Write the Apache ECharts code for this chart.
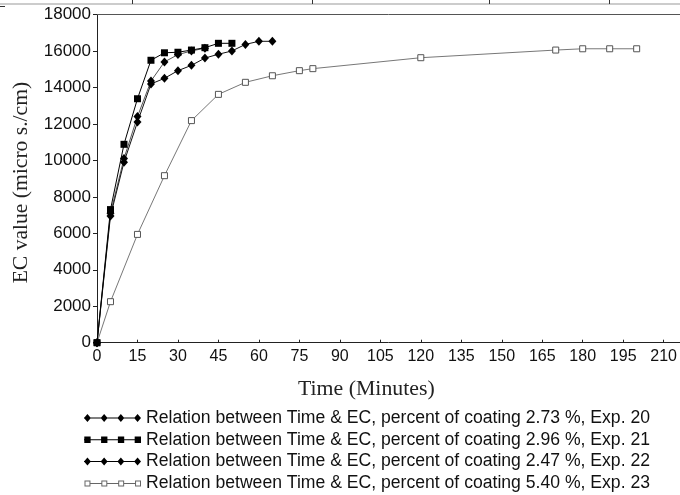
<!DOCTYPE html>
<html>
<head>
<meta charset="utf-8">
<script src="https://cdn.jsdelivr.net/npm/echarts@6/dist/echarts.min.js"></script>
<style>
html,body{margin:0;padding:0;background:#fff;}
#chart{width:680px;height:495px;}
</style>
</head>
<body>
<div id="chart"></div>
<script>
// ---- data ----
const xTicks = [0,15,30,45,60,75,90,105,120,135,150,165,180,195,210];
const yTicks = [0,2000,4000,6000,8000,10000,12000,14000,16000,18000];

const time20 = [0,5,10,15,20,25,30,35,40];
const ec20   = [0,7100,10100,12400,14350,15400,15800,16000,16150];

const time21 = [0,5,10,15,20,25,30,35,40,45,50];
const ec21   = [0,7300,10880,13380,15490,15900,15930,16050,16180,16420,16420];

const time22 = [0,5,10,15,20,25,30,35,40,45,50,55,60,65];
const ec22   = [0,6950,9900,12100,14190,14500,14920,15210,15610,15820,16000,16360,16530,16530];

const time23 = [0,5,15,25,35,45,55,65,75,80,120,170,180,190,200];
const ec23   = [0,2250,5940,9160,12180,13620,14280,14640,14920,15030,15630,16050,16120,16120,16120];

const names = [
  'Relation between Time & EC, percent of coating 2.73 %, Exp. 20',
  'Relation between Time & EC, percent of coating 2.96 %, Exp. 21',
  'Relation between Time & EC, percent of coating 2.47 %, Exp. 22',
  'Relation between Time & EC, percent of coating 5.40 %, Exp. 23'
];

function pairs(xs, ys){ return xs.map((x,i)=>[x, ys[i]]); }

// legend icons: a line with four markers (width 57, height 8)
const cx = [3.5, 20.5, 37.5, 54.5];
function diamondIcon(){
  let p = 'M0 3.5H57V4.5H0Z';
  cx.forEach(c=>{ p += `M${c-3.5} 4L${c} 0L${c+3.5} 4L${c} 8Z`; });
  return 'path://' + p;
}
function squareIcon(){
  let p = 'M0 3.5H57V4.5H0Z';
  cx.forEach(c=>{ p += `M${c-3.2} 0.8H${c+3.2}V7.2H${c-3.2}Z`; });
  p += 'M0 0H0.01V0.01H0ZM56.99 7.99H57V8H56.99Z';
  return 'path://' + p;
}
function hollowSquareIcon(){
  let p = '';
  for(let i=0;i<cx.length-1;i++){ p += `M${cx[i]+3} 3.5H${cx[i+1]-3}V4.5H${cx[i]+3}Z`; }
  cx.forEach(c=>{
    p += `M${c-3} 1H${c+3}V7H${c-3}Z`;
    p += `M${c-2} 2V6H${c+2}V2Z`;
  });
  p += 'M0 0H0.01V0.01H0ZM56.99 7.99H57V8H56.99Z';
  return 'path://' + p;
}

const chart = echarts.init(document.getElementById('chart'), null, {renderer:'canvas'});

const sansFont = '"Liberation Sans", Arial, sans-serif';
const serifFont = '"Liberation Serif", "Times New Roman", serif';

const XMAX = 216;

const option = {
  animation: false,
  backgroundColor: '#fff',
  grid: {left: 97, top: 14.5, right: 0, bottom: 152.3},
  xAxis: [{
    type: 'value', min: 0, max: XMAX, interval: 15,
    axisLine: {show: true, onZero: false, lineStyle: {color: '#222', width: 1}},
    axisTick: {show: true, inside: true, length: 3, lineStyle: {color: '#222'}},
    splitLine: {show: false},
    axisLabel: {
      color: '#111', fontFamily: sansFont, fontSize: 16, margin: 6,
      showMaxLabel: false,
      formatter: v => (xTicks.indexOf(v) >= 0 ? String(v) : '')
    }
  }, {
    type: 'value', position: 'top', min: 0, max: XMAX,
    axisLine: {show: true, onZero: false, lineStyle: {color: '#555', width: 1}},
    axisTick: {show: false}, axisLabel: {show: false}, splitLine: {show: false}
  }],
  yAxis: {
    type: 'value', min: 0, max: 18000, interval: 2000,
    name: 'EC value (micro s./cm)', nameLocation: 'middle', nameGap: 64,
    nameTextStyle: {fontFamily: serifFont, fontSize: 21.6, color: '#222', padding: [0, 8, 0, 0]},
    axisLine: {show: true, lineStyle: {color: '#222', width: 1}},
    axisTick: {show: true, inside: false, length: 4, lineStyle: {color: '#222'}},
    splitLine: {show: false},
    axisLabel: {
      color: '#111', fontFamily: sansFont, fontSize: 17, margin: 6,
      formatter: v => (yTicks.indexOf(v) >= 0 ? String(v) : '')
    }
  },
  legend: {
    orient: 'vertical', left: 84, top: 409, padding: 0,
    itemWidth: 57, itemHeight: 8, itemGap: 3.8,
    symbolKeepAspect: false,
    selectedMode: false,
    textStyle: {fontFamily: sansFont, fontSize: 17.6, color: '#111', lineHeight: 18},
    itemStyle: {borderWidth: 0},
    data: [
      {name: names[0], icon: diamondIcon(), itemStyle: {color: '#000', borderWidth: 0}},
      {name: names[1], icon: squareIcon(), itemStyle: {color: '#000', borderWidth: 0}},
      {name: names[2], icon: diamondIcon(), itemStyle: {color: '#000', borderWidth: 0}},
      {name: names[3], icon: hollowSquareIcon(), itemStyle: {color: '#666', borderWidth: 0}}
    ]
  },
  graphic: [
    {type: 'line', shape: {x1: 0, y1: 4, x2: 680, y2: 4}, style: {stroke: '#999', lineWidth: 1}, silent: true},
    {type: 'line', shape: {x1: 132.5, y1: 0, x2: 132.5, y2: 4}, style: {stroke: '#333', lineWidth: 1}, silent: true},
    {type: 'line', shape: {x1: 312.5, y1: 0, x2: 312.5, y2: 4}, style: {stroke: '#333', lineWidth: 1}, silent: true},
    {type: 'line', shape: {x1: 489.5, y1: 0, x2: 489.5, y2: 4}, style: {stroke: '#333', lineWidth: 1}, silent: true},
    {type: 'line', shape: {x1: 609.5, y1: 0, x2: 609.5, y2: 4}, style: {stroke: '#333', lineWidth: 1}, silent: true},
    {type: 'line', shape: {x1: 0, y1: 6.5, x2: 5, y2: 6.5}, style: {stroke: '#333', lineWidth: 1}, silent: true},
    {type: 'text', left: 298, top: 378, silent: true,
     style: {text: 'Time (Minutes)', font: '21.8px ' + serifFont, fill: '#222'}}
  ],
  series: [
    {
      name: names[0], type: 'line', data: pairs(time20, ec20),
      symbol: 'diamond', symbolSize: [8, 9], showAllSymbol: true,
      lineStyle: {color: '#555', width: 1}, itemStyle: {color: '#000'}, z: 3
    },
    {
      name: names[1], type: 'line', data: pairs(time21, ec21),
      symbol: 'rect', symbolSize: 7, showAllSymbol: true,
      lineStyle: {color: '#000', width: 1}, itemStyle: {color: '#000'}, z: 4
    },
    {
      name: names[2], type: 'line', data: pairs(time22, ec22),
      symbol: 'diamond', symbolSize: [8, 9], showAllSymbol: true,
      lineStyle: {color: '#111', width: 1}, itemStyle: {color: '#000'}, z: 3
    },
    {
      name: names[3], type: 'line', data: pairs(time23, ec23),
      symbol: 'rect', symbolSize: 6, showAllSymbol: true,
      lineStyle: {color: '#777', width: 1},
      itemStyle: {color: '#fff', borderColor: '#555', borderWidth: 1}, z: 2
    }
  ]
};
chart.setOption(option);
</script>
</body>
</html>
